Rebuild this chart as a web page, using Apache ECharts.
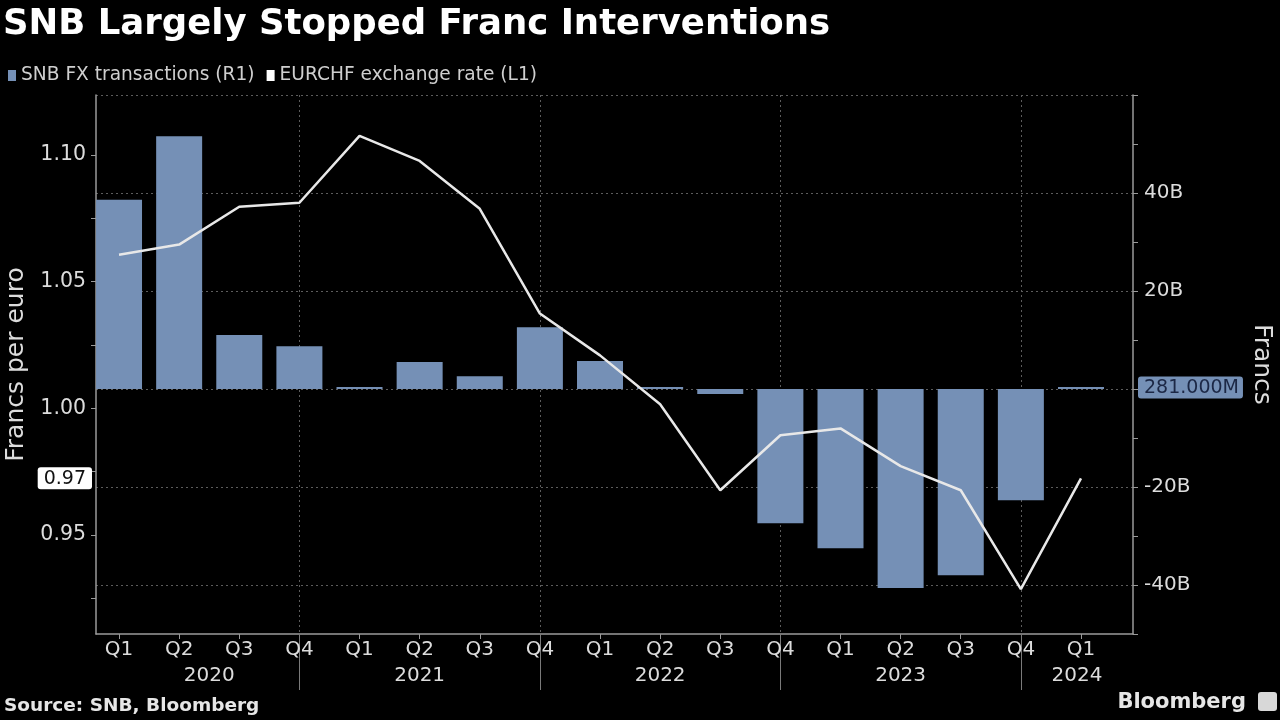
<!DOCTYPE html>
<html><head><meta charset="utf-8">
<script src="https://cdn.jsdelivr.net/npm/echarts@6/dist/echarts.min.js"></script>
<style>html,body{margin:0;padding:0;background:#000}#c{width:1280px;height:720px}</style>
</head><body><div id="c"></div>
<script>
// ---- data ----
const quarters = ['Q1','Q2','Q3','Q4','Q1','Q2','Q3','Q4','Q1','Q2','Q3','Q4','Q1','Q2','Q3','Q4','Q1'];
const years = ['2020','2021','2022','2023','2024'];
// SNB FX transactions, billions of francs (right axis)
const fxTransactions = [38.6, 51.6, 11.0, 8.7, 0.2, 5.5, 2.6, 12.6, 5.7, 0.1, -1.0, -27.4, -32.5, -40.6, -38.0, -22.7, 0.281];
// EURCHF exchange rate (left axis)
const eurchf = [1.0606, 1.0646, 1.0795, 1.0811, 1.1075, 1.0976, 1.0787, 1.0374, 1.0209, 1.0016, 0.9677, 0.9894, 0.9921, 0.9772, 0.9677, 0.9287, 0.9724];
const rateTicks = [0.925, 0.95, 0.975, 1.0, 1.025, 1.05, 1.075, 1.1];
const rateLabels = [0.95, 1.0, 1.05, 1.1];
const francLabels = [-40, -20, 20, 40];
const francGrid = [-40, -20, 0, 20, 40, 60];

// ---- layout constants ----
const X_MIN = -0.383, X_MAX = 16.865;
const FONT = '"DejaVu Sans", sans-serif';
const TXT = '#dcdcdc';
const AXIS = '#9a9a9a';
const BAR = '#7590b6';
const GRID = '#5c5c5c';

const idx = quarters.map((q, i) => i);
const sepPos = idx.filter(i => quarters[i] === 'Q4');
const bounds = [0].concat(sepPos).concat([X_MAX]);
const yearPos = years.map((y, i) => (bounds[i] + bounds[i + 1]) / 2);

const barData = fxTransactions.map((v, i) => [i, v]);
const lineData = eurchf.map((v, i) => [i, v]);

const chart = echarts.init(document.getElementById('c'));
chart.setOption({
  backgroundColor: '#000',
  animation: false,
  title: [
    { text: 'SNB Largely Stopped Franc Interventions', left: 3, top: 7, padding: 0,
      textStyle: { color: '#fff', fontSize: 35.5, fontWeight: 'bold', fontFamily: 'DejaVu Sans' } },
    { text: 'Source: SNB, Bloomberg', left: 4, top: 697, padding: 0,
      textStyle: { color: '#e6e6e6', fontSize: 18.5, fontWeight: 'bold', fontFamily: 'DejaVu Sans' } },
    { text: 'Bloomberg', right: 34, top: 692, padding: 0,
      textStyle: { color: '#e6e6e6', fontSize: 21, fontWeight: 'bold', fontFamily: 'DejaVu Sans' } }
  ],
  graphic: [
    { type: 'rect', right: 3, top: 692, shape: { width: 19, height: 19, r: 3 }, style: { fill: '#d8d8d8' } }
  ],
  legend: {
    left: 8, top: 66, padding: 0, icon: 'rect', itemWidth: 8, itemHeight: 11, itemGap: 12,
    textStyle: { color: '#cfcfcf', fontSize: 18.6, fontFamily: FONT },
    data: [
      { name: 'SNB FX transactions (R1)', itemStyle: { color: BAR } },
      { name: 'EURCHF exchange rate (L1)', icon: 'rect', itemStyle: { color: '#fff' } }
    ]
  },
  grid: { left: 96, right: 147, top: 95, bottom: 86, containLabel: false, outerBoundsMode: 'none' },
  xAxis: [
    {
      type: 'value', min: X_MIN, max: X_MAX, position: 'bottom',
      axisLine: { show: true, onZero: false, lineStyle: { color: AXIS, width: 1.5 } },
      axisTick: { show: true, customValues: idx, length: 5, lineStyle: { color: AXIS } },
      axisLabel: { customValues: idx, formatter: v => quarters[Math.round(v)], color: TXT,
                   fontSize: 20, margin: 6, fontFamily: FONT },
      splitLine: { show: false }
    },
    {
      type: 'value', min: X_MIN, max: X_MAX, position: 'bottom',
      axisLine: { show: false, onZero: false },
      axisTick: { show: true, customValues: sepPos, length: 56, lineStyle: { color: '#7a7a7a' } },
      axisLabel: {
        customValues: yearPos, color: TXT, fontSize: 20, margin: 32, fontFamily: FONT,
        formatter: v => {
          let best = 0;
          yearPos.forEach((p, i) => { if (Math.abs(p - v) < Math.abs(yearPos[best] - v)) best = i; });
          return years[best];
        }
      },
      splitLine: { show: true, lineStyle: { color: GRID, type: [2, 3], width: 1 } }
    }
  ],
  yAxis: [
    {
      type: 'value', position: 'left', min: 0.911, max: 1.1236,
      axisLine: { show: true, onZero: false, lineStyle: { color: AXIS, width: 1.5 } },
      axisTick: { show: true, customValues: rateTicks, length: 5, lineStyle: { color: AXIS } },
      axisLabel: { customValues: rateLabels, formatter: v => v.toFixed(2), color: TXT,
                   fontSize: 20.5, margin: 10, fontFamily: FONT },
      splitLine: { show: false },
      name: 'Francs per euro', nameLocation: 'middle', nameGap: 66,
      nameTextStyle: { color: TXT, fontSize: 25, fontFamily: FONT },
      axisPointer: {
        show: true, type: 'line', value: eurchf[eurchf.length - 1], status: 'show', snap: false,
        triggerTooltip: false, lineStyle: { opacity: 0, width: 0 },
        label: { show: true, formatter: p => Number(p.value).toFixed(2), backgroundColor: '#fff',
                 color: '#111', fontSize: 19, fontFamily: FONT, padding: [2, 6, 1, 6], margin: 4 }
      }
    },
    {
      type: 'value', position: 'right', min: -50, max: 60, interval: 10,
      axisLine: { show: true, onZero: false, lineStyle: { color: AXIS, width: 1.5 } },
      axisTick: { show: true, length: 5, lineStyle: { color: AXIS } },
      axisLabel: { customValues: francLabels, formatter: v => v + 'B', color: TXT,
                   fontSize: 20, margin: 11, fontFamily: FONT },
      splitLine: { show: false },
      name: 'Francs', nameLocation: 'middle', nameRotate: -90, nameGap: 116,
      nameTextStyle: { color: TXT, fontSize: 25, fontFamily: FONT },
      axisPointer: {
        show: true, type: 'line', value: fxTransactions[fxTransactions.length - 1], status: 'show', snap: false,
        triggerTooltip: false, lineStyle: { opacity: 0, width: 0 },
        label: { show: true, formatter: p => (Number(p.value) * 1000).toFixed(3) + 'M', backgroundColor: BAR,
                 color: '#1c2846', fontSize: 19, fontFamily: FONT, padding: [2, 4, 1, 6], margin: 5 }
      }
    },
    {
      type: 'value', position: 'right', min: -50, max: 60,
      axisLine: { show: false, onZero: false },
      axisTick: { show: false, customValues: francGrid },
      axisLabel: { show: false, customValues: francGrid },
      splitLine: { show: true, lineStyle: { color: GRID, type: [2, 3], width: 1 } }
    }
  ],
  series: [
    {
      name: 'SNB FX transactions (R1)', type: 'bar', xAxisIndex: 0, yAxisIndex: 1,
      data: barData, barWidth: 46, barMinHeight: 2, itemStyle: { color: BAR }, z: 2
    },
    {
      name: 'EURCHF exchange rate (L1)', type: 'line', xAxisIndex: 0, yAxisIndex: 0,
      data: lineData, showSymbol: false, symbol: 'none',
      lineStyle: { color: '#e8e8e8', width: 2.5 }, itemStyle: { color: '#fff' }, z: 3
    }
  ]
});
</script>
</body></html>
